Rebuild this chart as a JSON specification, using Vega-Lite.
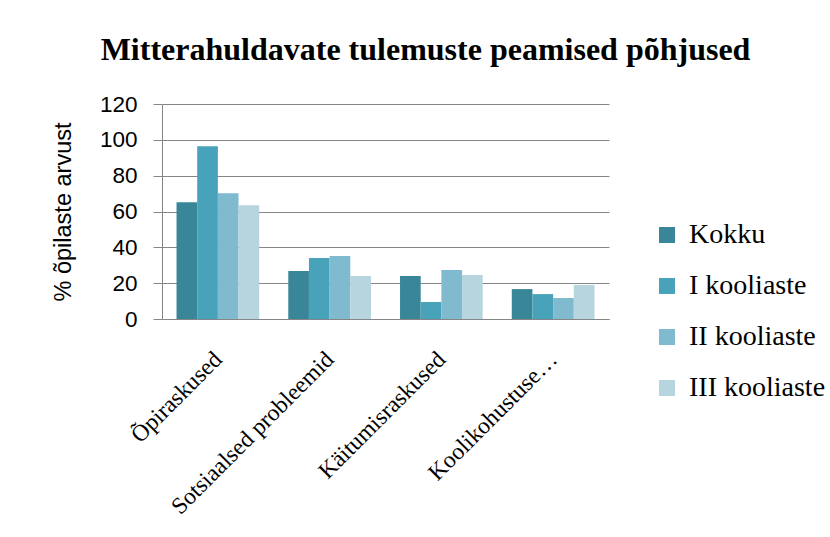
{
  "$schema": "https://vega.github.io/schema/vega-lite/v6.json",
  "autosize": {"type": "none"},
  "width": 447,
  "height": 215,
  "padding": {"left": 162, "top": 104, "right": 221, "bottom": 218},
  "background": "white",
  "title": {
    "text": "Mitterahuldavate tulemuste peamised põhjused",
    "font": "Liberation Serif",
    "fontSize": 32,
    "fontWeight": "bold",
    "color": "black",
    "anchor": "middle",
    "dx": 40,
    "offset": 26
  },
  "data": {
    "values": [
      {"pohjus": "Õpiraskused", "seeria": "Kokku", "vaartus": 65.2},
      {"pohjus": "Õpiraskused", "seeria": "I kooliaste", "vaartus": 96.4},
      {"pohjus": "Õpiraskused", "seeria": "II kooliaste", "vaartus": 70.2},
      {"pohjus": "Õpiraskused", "seeria": "III kooliaste", "vaartus": 63.5},
      {"pohjus": "Sotsiaalsed probleemid", "seeria": "Kokku", "vaartus": 26.8},
      {"pohjus": "Sotsiaalsed probleemid", "seeria": "I kooliaste", "vaartus": 34.0},
      {"pohjus": "Sotsiaalsed probleemid", "seeria": "II kooliaste", "vaartus": 35.1},
      {"pohjus": "Sotsiaalsed probleemid", "seeria": "III kooliaste", "vaartus": 24.0},
      {"pohjus": "Käitumisraskused", "seeria": "Kokku", "vaartus": 24.0},
      {"pohjus": "Käitumisraskused", "seeria": "I kooliaste", "vaartus": 9.5},
      {"pohjus": "Käitumisraskused", "seeria": "II kooliaste", "vaartus": 27.3},
      {"pohjus": "Käitumisraskused", "seeria": "III kooliaste", "vaartus": 24.5},
      {"pohjus": "Koolikohustuse…", "seeria": "Kokku", "vaartus": 16.7},
      {"pohjus": "Koolikohustuse…", "seeria": "I kooliaste", "vaartus": 13.9},
      {"pohjus": "Koolikohustuse…", "seeria": "II kooliaste", "vaartus": 11.7},
      {"pohjus": "Koolikohustuse…", "seeria": "III kooliaste", "vaartus": 19.0}
    ]
  },
  "mark": {"type": "bar", "strokeWidth": 0},
  "encoding": {
    "x": {
      "field": "pohjus",
      "type": "nominal",
      "sort": null,
      "scale": {"paddingInner": 0.26, "paddingOuter": 0.13},
      "axis": {
        "title": null,
        "labelAngle": -45,
        "labelAlign": "right",
        "labelBaseline": "top",
        "labelFont": "Liberation Serif",
        "labelFontSize": 23.5,
        "labelColor": "black",
        "labelPadding": 28,
        "labelOffset": -8,
        "labelLimit": 400,
        "ticks": false,
        "tickSize": 0,
        "domain": true,
        "domainColor": "#868686",
        "domainWidth": 1
      }
    },
    "xOffset": {
      "field": "seeria",
      "type": "nominal",
      "sort": ["Kokku", "I kooliaste", "II kooliaste", "III kooliaste"],
      "scale": {"paddingInner": 0, "paddingOuter": 0}
    },
    "y": {
      "field": "vaartus",
      "type": "quantitative",
      "scale": {"domain": [0, 120], "nice": false},
      "axis": {
        "title": "% õpilaste arvust",
        "titleFont": "Liberation Sans",
        "titleFontSize": 23.5,
        "titleFontWeight": "normal",
        "titleColor": "black",
        "titlePadding": 24,
        "values": [0, 20, 40, 60, 80, 100, 120],
        "labelFont": "Liberation Sans",
        "labelFontSize": 22.5,
        "labelColor": "black",
        "labelPadding": 16,
        "tickSize": 9,
        "tickColor": "#868686",
        "domainColor": "#868686",
        "grid": true,
        "gridColor": "#868686",
        "gridWidth": 1
      }
    },
    "color": {
      "field": "seeria",
      "type": "nominal",
      "scale": {
        "domain": ["Kokku", "I kooliaste", "II kooliaste", "III kooliaste"],
        "range": ["#3A8699", "#48A2BA", "#7FBACE", "#B6D5DF"]
      },
      "legend": {
        "title": null,
        "orient": "none",
        "legendX": 491,
        "legendY": 117,
        "symbolType": "square",
        "symbolSize": 256,
        "symbolStrokeWidth": 0,
        "symbolOpacity": 1,
        "labelFont": "Liberation Serif",
        "labelFontSize": 28,
        "labelColor": "black",
        "labelOffset": 8,
        "rowPadding": 23,
        "padding": 0,
        "labelLimit": 300
      }
    }
  },
  "config": {
    "view": {"stroke": null}
  }
}
